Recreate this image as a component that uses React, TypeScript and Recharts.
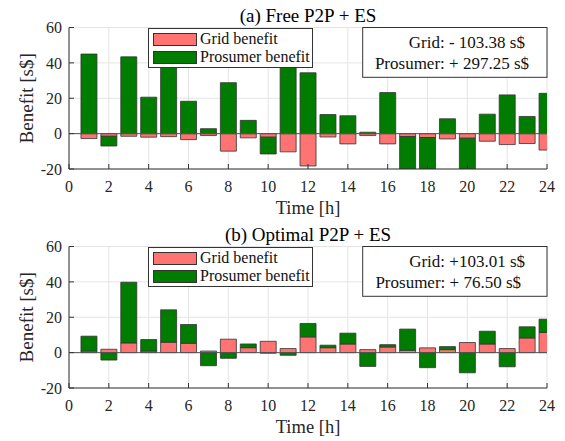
import React from 'react';
import { BarChart, Bar, XAxis, YAxis, CartesianGrid, ReferenceLine, Legend } from 'recharts';

const hours = [1, 2, 3, 4, 5, 6, 7, 8, 9, 10, 11, 12, 13, 14, 15, 16, 17, 18, 19, 20, 21, 22, 23, 24];
const xTicks = [0, 2, 4, 6, 8, 10, 12, 14, 16, 18, 20, 22, 24];
const yTicks = [-20, 0, 20, 40, 60];

const freeGrid = [-2.8, -1.5, -1.5, -2.0, -1.7, -3.4, -1.1, -9.9, -2.4, -2.0, -10.3, -18.3, -1.9, -5.8, -1.1, -5.8, -1.7, -2.2, -3.0, -2.6, -4.3, -6.2, -5.6, -9.3];
const freeProsumer = [45.0, -5.5, 43.4, 20.6, 38.0, 18.3, 2.8, 28.8, 7.5, -9.5, 40.0, 34.4, 10.8, 10.1, 0.8, 23.2, -28.0, -30.0, 8.4, -27.0, 11.0, 21.9, 9.7, 22.8];

const optGrid = [0.9, 1.9, 5.5, 0.9, 5.9, 5.3, 0.9, 7.6, 2.8, 6.4, 2.3, 8.9, 2.8, 4.9, 1.7, 3.2, 1.3, 2.7, 1.7, 5.7, 4.9, 2.3, 8.3, 11.4];
const optProsumer = [8.4, -4.2, 34.3, 6.5, 18.3, 10.6, -7.4, -3.2, 2.1, -0.3, -1.5, 7.6, 1.4, 6.1, -7.8, 1.3, 12.0, -8.5, 1.7, -11.4, 7.2, -8.0, 6.3, 7.5];

const titles = ['(a) Free P2P + ES', '(b) Optimal P2P + ES'];
const gridTexts = ['Grid: - 103.38 s$', 'Grid: +103.01 s$'];
const prosTexts = ['Prosumer: + 297.25 s$', 'Prosumer: + 76.50 s$'];
const seriesNames = ['Grid benefit', 'Prosumer benefit'];

const FONT = '"Liberation Serif", "Times New Roman", serif';
const PINK = '#ff7373';
const GREEN = '#007d00';
const AXIS = '#333333';

const LegendBox = () => (
  <div style={{ position: 'relative', width: 165, height: 40, border: '1px solid #333', background: '#fff', boxSizing: 'border-box', fontFamily: FONT, fontSize: 16, color: '#111' }}>
    <div style={{ position: 'absolute', left: 4, top: 4, width: 44, height: 13, background: PINK, border: '1px solid #333', boxSizing: 'border-box' }} />
    <div style={{ position: 'absolute', left: 51, top: 0, lineHeight: '20px' }}>{seriesNames[0]}</div>
    <div style={{ position: 'absolute', left: 4, top: 22, width: 44, height: 13, background: GREEN, border: '1px solid #333', boxSizing: 'border-box' }} />
    <div style={{ position: 'absolute', left: 51, top: 18.5, lineHeight: '20px' }}>{seriesNames[1]}</div>
  </div>
);

function Panel({ idx, grid, pros, gridEnd, prosEnd }: { idx: number; grid: number[]; pros: number[]; gridEnd: number; prosEnd: number }) {
  const data = hours.map((h, i) => ({ hour: h, grid: grid[i], pros: pros[i] }));
  const tickStyle = { fill: '#262626', fontSize: 16, fontFamily: FONT };
  return (
    <div style={{ position: 'relative', width: 565, height: 220 }}>
      <BarChart width={565} height={220} data={data} stackOffset="sign" margin={{ top: 27.5, right: 18, bottom: 21, left: 19 }}>
        <CartesianGrid stroke="#e4e4e4" strokeWidth={1} />
        <XAxis dataKey="hour" type="number" domain={[0, 24]} ticks={xTicks} allowDataOverflow interval={0}
          tick={tickStyle} tickSize={-5} tickMargin={16.3} stroke={AXIS} />
        <XAxis xAxisId="top" orientation="top" type="number" domain={[0, 24]} ticks={xTicks} allowDataOverflow
          height={0} tick={false} tickSize={-5} stroke={AXIS} />
        <YAxis type="number" domain={[-20, 60]} ticks={yTicks} allowDataOverflow width={50} interval={0}
          tick={tickStyle} tickSize={-5} tickMargin={12} stroke={AXIS} />
        <YAxis yAxisId="right" orientation="right" type="number" domain={[-20, 60]} ticks={yTicks} allowDataOverflow
          width={0} tick={false} tickSize={-5} stroke={AXIS} />
        <ReferenceLine y={0} stroke="#555" strokeWidth={1} />
        <Bar dataKey="grid" name={seriesNames[0]} stackId="s" fill={PINK} stroke="#333" strokeWidth={0.8} barSize={16} isAnimationActive={false} />
        <Bar dataKey="pros" name={seriesNames[1]} stackId="s" fill={GREEN} stroke="#333" strokeWidth={0.8} barSize={16} isAnimationActive={false} />
        <Legend layout="vertical" align="center" verticalAlign="middle" content={() => <LegendBox />}
          wrapperStyle={{ position: 'absolute', left: 148, top: 27.5, width: 165, height: 40, margin: 0 }} />
      </BarChart>
      <svg width={565} height={220} style={{ position: 'absolute', left: 0, top: 0, pointerEvents: 'none' }} fontFamily={FONT}>
        <text x={308} y={21.7} textAnchor="middle" fontSize={19} fill="#000">{titles[idx]}</text>
        <text x={308} y={214} textAnchor="middle" fontSize={18.5} fill="#262626">Time [h]</text>
        <text transform="translate(26.7,98.3) rotate(-90)" textAnchor="middle" dominantBaseline="central" fontSize={19} fill="#262626">Benefit [s$]</text>
        <rect x={362.7} y={27.5} width={184.3} height={49.8} fill="#fff" stroke="#333" strokeWidth={1} />
        <text x={gridEnd} y={48} textAnchor="end" fontSize={17} fill="#111">{gridTexts[idx]}</text>
        <text x={prosEnd} y={69} textAnchor="end" fontSize={17} fill="#111">{prosTexts[idx]}</text>
      </svg>
    </div>
  );
}

export default function App() {
  return (
    <div style={{ position: 'absolute', left: 0, top: 0, width: 565, height: 441, background: '#fff', overflow: 'hidden' }}>
      <div style={{ position: 'absolute', left: 0, top: 0 }}>
        <Panel idx={0} grid={freeGrid} pros={freeProsumer} gridEnd={525} prosEnd={529} />
      </div>
      <div style={{ position: 'absolute', left: 0, top: 219.2 }}>
        <Panel idx={1} grid={optGrid} pros={optProsumer} gridEnd={525} prosEnd={521} />
      </div>
    </div>
  );
}
